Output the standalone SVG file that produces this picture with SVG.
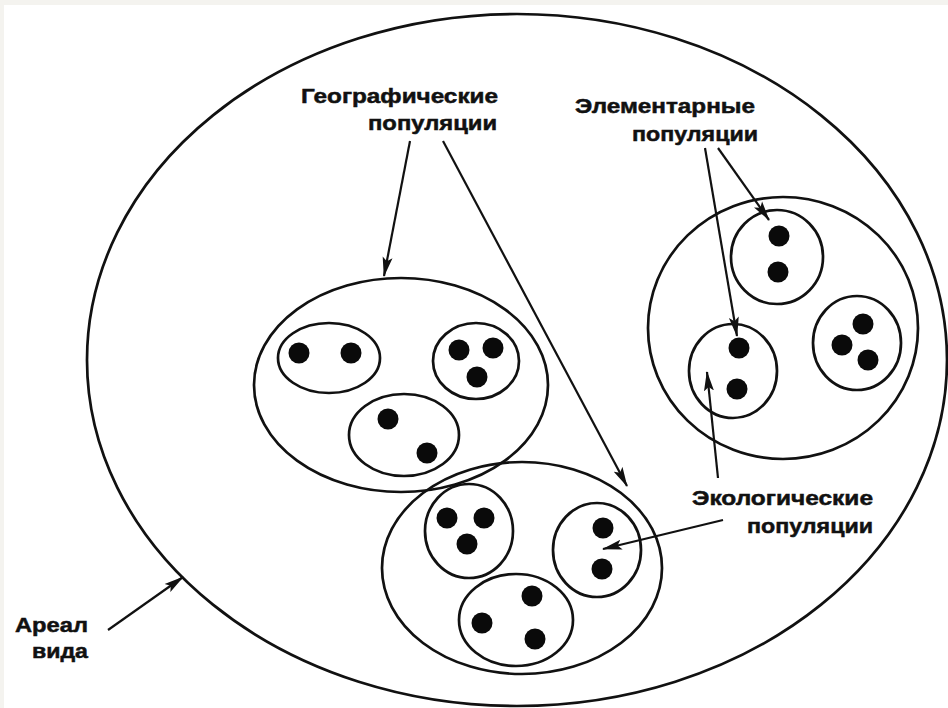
<svg xmlns="http://www.w3.org/2000/svg" width="948" height="708" viewBox="0 0 948 708">
<style>
.ln{fill:none;stroke:#111;stroke-width:2.7}
.ar{fill:none;stroke:#111;stroke-width:2.2}
.dot{fill:#0a0a0a}
.lb{font-family:"Liberation Sans",Arial,sans-serif;font-weight:bold;font-size:21px;fill:#111;stroke:#111;stroke-width:0.5;text-anchor:end}
</style>
<defs>
<marker id="ah" viewBox="0 0 20 10" refX="19" refY="5" markerWidth="20" markerHeight="11" markerUnits="userSpaceOnUse" orient="auto">
<path d="M0,0 L20,5 L0,10 L4,5 Z" fill="#111"/>
</marker>
</defs>
<rect x="0" y="0" width="948" height="708" fill="#f4f3ef"/>
<rect x="4" y="5" width="944" height="703" fill="#ffffff"/>

<g id="areal">
<ellipse class="ln" cx="517" cy="360" rx="430" ry="346"/>
</g>

<g id="geo1">
<ellipse class="ln" cx="401" cy="385" rx="147" ry="107"/>
<g id="eco1a"><ellipse class="ln" cx="329" cy="358" rx="51" ry="35"/>
<circle class="dot" cx="299" cy="353" r="10.5"/><circle class="dot" cx="351" cy="353" r="10.5"/></g>
<g id="eco1b"><ellipse class="ln" cx="476" cy="361" rx="43" ry="38"/>
<circle class="dot" cx="459" cy="350" r="10.5"/><circle class="dot" cx="493" cy="348" r="10.5"/><circle class="dot" cx="477" cy="377" r="10.5"/></g>
<g id="eco1c"><ellipse class="ln" cx="404" cy="435" rx="55" ry="41"/>
<circle class="dot" cx="388" cy="419" r="10.5"/><circle class="dot" cx="427" cy="453" r="10.5"/></g>
</g>

<g id="geo2">
<ellipse class="ln" cx="522" cy="568" rx="140" ry="106"/>
<g id="eco2a"><ellipse class="ln" cx="469" cy="531" rx="44" ry="47"/>
<circle class="dot" cx="447" cy="518" r="10.5"/><circle class="dot" cx="484" cy="518" r="10.5"/><circle class="dot" cx="467" cy="544" r="10.5"/></g>
<g id="eco2b"><ellipse class="ln" cx="597" cy="550" rx="44" ry="47"/>
<circle class="dot" cx="603" cy="528" r="10.5"/><circle class="dot" cx="602" cy="569" r="10.5"/></g>
<g id="eco2c"><ellipse class="ln" cx="516" cy="620" rx="57" ry="46"/>
<circle class="dot" cx="532" cy="596" r="10.5"/><circle class="dot" cx="482" cy="623" r="10.5"/><circle class="dot" cx="535" cy="639" r="10.5"/></g>
</g>

<g id="geo3">
<ellipse class="ln" cx="783" cy="328" rx="135" ry="131"/>
<g id="eco3a"><ellipse class="ln" cx="777" cy="257" rx="46" ry="47"/>
<circle class="dot" cx="779" cy="236" r="10.5"/><circle class="dot" cx="778" cy="272" r="10.5"/></g>
<g id="eco3b"><ellipse class="ln" cx="733" cy="371" rx="44" ry="47"/>
<circle class="dot" cx="739" cy="348" r="10.5"/><circle class="dot" cx="737" cy="389" r="10.5"/></g>
<g id="eco3c"><ellipse class="ln" cx="857" cy="343" rx="44" ry="47"/>
<circle class="dot" cx="863" cy="324" r="10.5"/><circle class="dot" cx="842" cy="345" r="10.5"/><circle class="dot" cx="868" cy="360" r="10.5"/></g>
</g>

<g id="labels">
<text class="lb" x="498" y="103" textLength="197" lengthAdjust="spacingAndGlyphs">Географические</text>
<text class="lb" x="497" y="130" textLength="129" lengthAdjust="spacingAndGlyphs">популяции</text>
<text class="lb" x="755" y="113" textLength="180" lengthAdjust="spacingAndGlyphs">Элементарные</text>
<text class="lb" x="758" y="141" textLength="126" lengthAdjust="spacingAndGlyphs">популяции</text>
<text class="lb" x="873" y="505" textLength="181" lengthAdjust="spacingAndGlyphs">Экологические</text>
<text class="lb" x="873" y="533" textLength="126" lengthAdjust="spacingAndGlyphs">популяции</text>
<text class="lb" x="88" y="632" textLength="73" lengthAdjust="spacingAndGlyphs">Ареал</text>
<text class="lb" x="88" y="658" textLength="56" lengthAdjust="spacingAndGlyphs">вида</text>
</g>

<g id="connectors">
<line class="ar" x1="410" y1="141" x2="384" y2="276" marker-end="url(#ah)"/>
<line class="ar" x1="443" y1="141" x2="627" y2="486" marker-end="url(#ah)"/>
<line class="ar" x1="705" y1="148" x2="737" y2="336" marker-end="url(#ah)"/>
<line class="ar" x1="718" y1="148" x2="769" y2="220" marker-end="url(#ah)"/>
<line class="ar" x1="718" y1="478" x2="707" y2="372" marker-end="url(#ah)"/>
<line class="ar" x1="723" y1="520" x2="603" y2="549" marker-end="url(#ah)"/>
<line class="ar" x1="108" y1="630" x2="183" y2="577" marker-end="url(#ah)"/>
</g>
</svg>
